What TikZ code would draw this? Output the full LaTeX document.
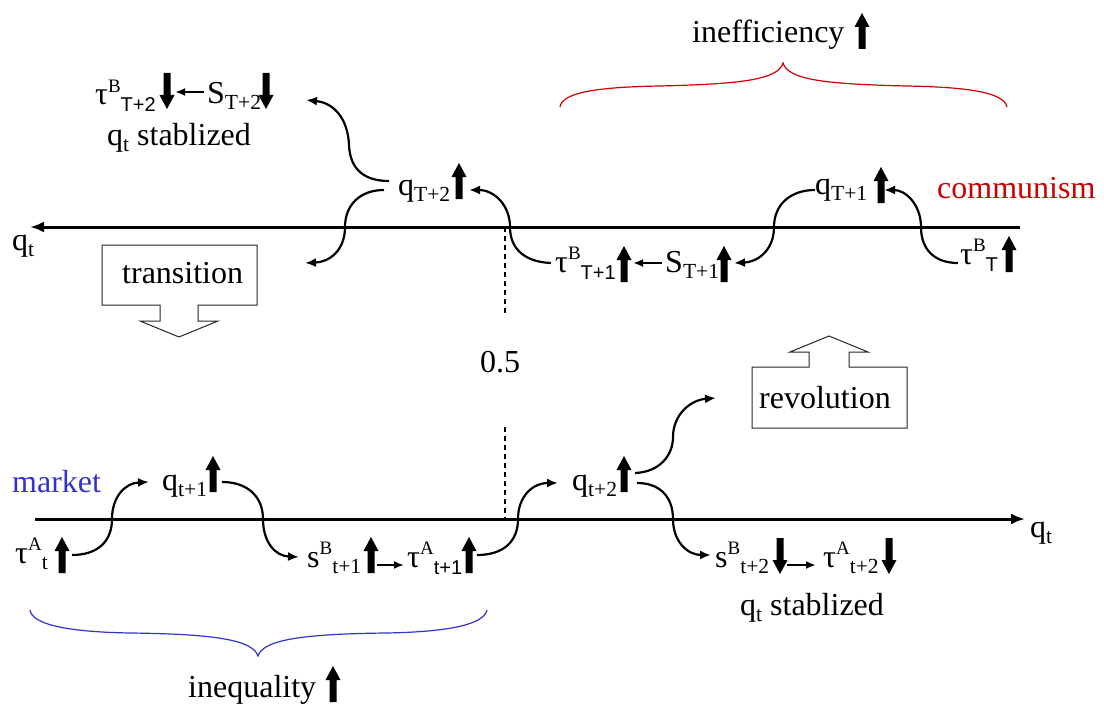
\documentclass[tikz,border=0pt]{standalone}
\usepackage{fontspec}
\setmainfont{Liberation Serif}
\newfontfamily\sansf{Liberation Sans}
\usetikzlibrary{arrows.meta}
\definecolor{commred}{RGB}{204,0,0}
\definecolor{mktblue}{RGB}{51,51,204}
\newcommand\spx[1]{\raisebox{13pt}{\fontsize{19}{19}\selectfont #1}}
\newcommand\sbx[1]{\raisebox{-6pt}{\fontsize{21.5}{21.5}\selectfont #1}}
\newcommand\sbsf[1]{\raisebox{-7pt}{\fontsize{20}{20}\selectfont\sansf #1}}
\begin{document}
\begin{tikzpicture}[x=1pt,y=-1pt,
 lbl/.style={inner sep=0pt,anchor=base west,font=\fontsize{32}{36}\selectfont},
 axisline/.style={line width=3pt,-{Latex[length=14pt,width=11pt]}},
 flow/.style={line width=2.2pt,-{Latex[length=11pt,width=9pt]}},
 shortarr/.style={line width=2pt,-{Latex[length=10pt,width=8pt]}},
 guide/.style={line width=1.6pt,dash pattern=on 5pt off 4pt},
 boxshape/.style={draw=black!85,line width=1pt,fill=white},
 bracestyle/.style={line width=1.2pt},
 uparr/.pic={\fill (-3.5,0) -- (-3.5,-22) -- (-7.5,-22) -- (0,-36) -- (7.5,-22) -- (3.5,-22) -- (3.5,0) -- cycle;},
 dnarr/.pic={\fill (-3.5,0) -- (-3.5,22) -- (-7.5,22) -- (0,36) -- (7.5,22) -- (3.5,22) -- (3.5,0) -- cycle;}
]
\useasboundingbox (0,0) rectangle (1104,709);

% ---------- axes ----------
\coordinate (topR) at (1020,227);
\coordinate (topL) at (30,227);
\coordinate (botL) at (35,519);
\coordinate (botR) at (1025,519);
\draw[axisline] (topR) -- (topL);
\draw[axisline] (botL) -- (botR);
\node[lbl] (qtTop) at (12,250) {q\sbx{t}};
\node[lbl] (qtBot) at (1030,537) {q\sbx{t}};

% ---------- 0.5 guide ----------
\coordinate (dA) at (505,227);
\coordinate (dB) at (505,313);
\coordinate (dC) at (505,427);
\coordinate (dD) at (505,519);
\draw[guide] (dA) -- (dB);
\draw[guide] (dC) -- (dD);
\node[lbl] (half) at (480,372) {0.5};

% ---------- top labels ----------
\node[lbl] (ineff) at (692,43) {inefficiency};
\pic at (862,49) {uparr};
\draw[bracestyle,commred] (560,107) .. controls (562,92) and (600,87) .. (660,86)
  .. controls (740,84) and (778,80) .. (783,63)
  .. controls (788,80) and (826,84) .. (906,86)
  .. controls (966,87) and (1004,92) .. (1007,107);

\node[lbl] (tauBT2) at (95,105) {τ\spx{B}\sbsf{T+2}};
\pic at (167,73) {dnarr};
\node[lbl] (ST2) at (207,103) {S\sbx{T+2}};
\pic at (266,73) {dnarr};
\coordinate (a1s) at (204,92);
\coordinate (a1e) at (175,92);
\draw[shortarr] (a1s) -- (a1e);
\node[lbl] (stab1) at (107,145) {q\sbx{t} stablized};

\node[lbl] (qT2) at (398,195) {q\sbx{T+2}};
\pic at (459,199) {uparr};
\node[lbl] (tauBT1) at (555,272) {τ\spx{B}\sbsf{T+1}};
\pic at (624,282) {uparr};
\node[lbl] (ST1) at (665,272) {S\sbx{T+1}};
\pic at (724,282) {uparr};
\coordinate (a2s) at (662,263);
\coordinate (a2e) at (633,263);
\draw[shortarr] (a2s) -- (a2e);
\node[lbl] (qT1) at (815,194) {q\sbx{T+1}};
\pic at (881,203) {uparr};
\node[lbl] (tauBT) at (960,264) {τ\spx{B}\sbsf{T}};
\pic at (1009,272) {uparr};
\node[lbl,text=commred] (comm) at (937,198) {communism};

% top flows
\coordinate (c1s) at (958,263);
\coordinate (c1e) at (884,190);
\draw[flow] (c1s) .. controls (935,263) and (921,250) .. (921,227)
  .. controls (921,205) and (906,190) .. (c1e);
\coordinate (c2s) at (815,190);
\coordinate (c2e) at (734,263);
\draw[flow] (c2s) .. controls (790,190) and (774,205) .. (774,227)
  .. controls (774,250) and (758,262) .. (c2e);
\coordinate (c3s) at (551,263);
\coordinate (c3e) at (469,190);
\draw[flow] (c3s) .. controls (526,262) and (510,250) .. (510,227)
  .. controls (510,205) and (494,190) .. (c3e);
\coordinate (c4s) at (389,181);
\coordinate (c4e) at (306,100);
\draw[flow] (c4s) .. controls (365,181) and (350,170) .. (349,145)
  .. controls (348,120) and (335,103) .. (c4e);
\coordinate (c5s) at (384,190);
\coordinate (c5e) at (305,263);
\draw[flow] (c5s) .. controls (360,190) and (345,205) .. (345,227)
  .. controls (345,250) and (330,262) .. (c5e);

% transition box
\draw[boxshape] (102,245) -- (257,245) -- (257,305) -- (198,305) -- (198,321) -- (218,321)
  -- (179,337) -- (140,321) -- (160,321) -- (160,305) -- (102,305) -- cycle;
\node[lbl] (trans) at (122,283) {transition};

% revolution box
\draw[boxshape] (752,367) -- (809,367) -- (809,352) -- (790,352) -- (829,336) -- (868,352)
  -- (849,352) -- (849,367) -- (907,367) -- (907,428) -- (752,428) -- cycle;
\node[lbl] (revo) at (759,408) {revolution};

% ---------- bottom labels ----------
\node[lbl,text=mktblue] (market) at (12,492) {market};
\node[lbl] (tauAt) at (15,563) {τ\spx{A}\sbx{t}};
\pic at (62,573) {uparr};
\node[lbl] (qt1) at (162,490) {q\sbx{t+1}};
\pic at (213,492) {uparr};
\node[lbl] (sBt1) at (307,567) {s\spx{B}\sbx{t+1}};
\pic at (371,573) {uparr};
\coordinate (a3s) at (377,565);
\coordinate (a3e) at (404,565);
\draw[shortarr] (a3s) -- (a3e);
\node[lbl] (tauAt1) at (407,567) {τ\spx{A}\sbsf{t+1}};
\pic at (469,573) {uparr};
\node[lbl] (qt2) at (572,490) {q\sbx{t+2}};
\pic at (624,492) {uparr};
\node[lbl] (sBt2) at (715,567) {s\spx{B}\sbx{t+2}};
\pic at (780,538) {dnarr};
\coordinate (a4s) at (787,565);
\coordinate (a4e) at (816,565);
\draw[shortarr] (a4s) -- (a4e);
\node[lbl] (tauAt2) at (823,567) {τ\spx{A}\sbx{t+2}};
\pic at (889,538) {dnarr};
\node[lbl] (stab2) at (740,615) {q\sbx{t} stablized};

\node[lbl] (ineq) at (188,697) {inequality};
\pic at (333,702) {uparr};
\draw[bracestyle,mktblue] (30,610) .. controls (32,625) and (70,632) .. (130,633)
  .. controls (215,634) and (253,640) .. (258,656)
  .. controls (263,640) and (301,634) .. (386,633)
  .. controls (446,632) and (484,625) .. (487,610);

% bottom flows
\coordinate (c6s) at (72,555);
\coordinate (c6e) at (149,482);
\draw[flow] (c6s) .. controls (97,555) and (112,542) .. (112,519)
  .. controls (112,497) and (125,483) .. (c6e);
\coordinate (c7s) at (222,482);
\coordinate (c7e) at (299,557);
\draw[flow] (c7s) .. controls (248,482) and (263,497) .. (263,519)
  .. controls (263,542) and (275,556) .. (c7e);
\coordinate (c8s) at (477,555);
\coordinate (c8e) at (558,483);
\draw[flow] (c8s) .. controls (503,555) and (518,542) .. (518,519)
  .. controls (518,497) and (532,483) .. (c8e);
\coordinate (c9s) at (635,473);
\coordinate (c9e) at (716,398);
\draw[flow] (c9s) .. controls (660,472) and (673,455) .. (673,437)
  .. controls (673,415) and (690,400) .. (c9e);
\coordinate (c10s) at (637,483);
\coordinate (c10e) at (711,555);
\draw[flow] (c10s) .. controls (660,483) and (673,497) .. (673,519)
  .. controls (673,542) and (688,555) .. (c10e);
\end{tikzpicture}
\end{document}
